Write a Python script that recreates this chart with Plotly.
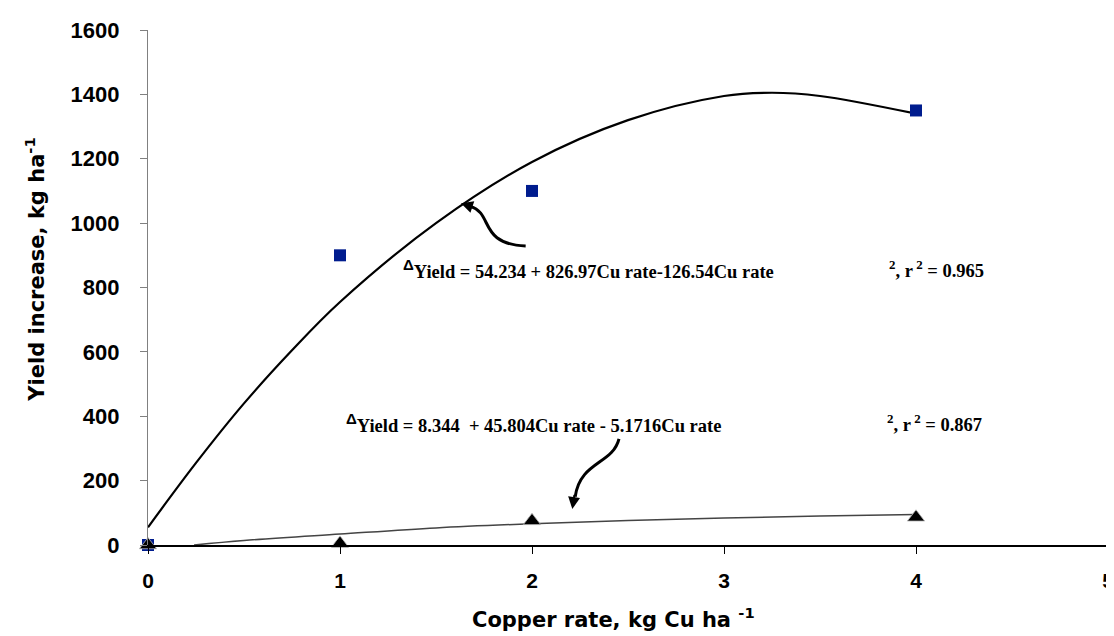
import plotly.graph_objects as go

# Observed data
rate = [0, 1, 2, 4]
yield_sq = [0, 900, 1100, 1350]
yield_tri = [0, 5, 75, 86]

# Fitted curves
up_x = [0, 0.25, 0.5, 0.75, 1, 1.5, 2, 2.5, 3, 3.25, 3.5, 4]
up_y = [55, 255, 440, 605, 755, 1000, 1190, 1320, 1395, 1405, 1395, 1340]
low_x = [0.24, 0.5, 1, 1.5, 2, 2.5, 3, 3.5, 4]
low_y = [0, 14, 34, 53, 66, 76, 84, 90, 95]

x_ticks = [0, 1, 2, 3, 4, 5]
y_ticks = [0, 200, 400, 600, 800, 1000, 1200, 1400, 1600]

fig = go.Figure()
fig.add_trace(go.Scatter(x=up_x, y=up_y, mode="lines", line=dict(color="black", width=2.2, shape="spline"),
                         showlegend=False, hoverinfo="skip"))
fig.add_trace(go.Scatter(x=low_x, y=low_y, mode="lines", line=dict(color="#444444", width=1.5, shape="spline"),
                         showlegend=False, hoverinfo="skip"))
fig.add_trace(go.Scatter(x=rate, y=yield_sq, mode="markers",
                         marker=dict(symbol="square", size=12, color="#001C8E"),
                         showlegend=False, cliponaxis=False))
fig.add_trace(go.Scatter(x=rate, y=yield_tri, mode="markers",
                         marker=dict(symbol="triangle-up", size=15, color="black",
                                     line=dict(color="#bbbbbb", width=0.8)),
                         showlegend=False, cliponaxis=False))

serif = dict(family="Liberation Serif, Times New Roman, serif", size=18.5, color="black", weight="bold")
delta = "<sup><span style='font-family:Liberation Sans, Arial, sans-serif; font-size:15px'>Δ</span></sup>"

# Curvy arrows
fig.add_shape(type="path", xref="x", yref="y",
              path="M 1.967,929 C 1.72,935 1.80,1030 1.68,1052",
              line=dict(color="black", width=3))
fig.add_annotation(x=1.63, y=1062, ax=1.69, ay=1050, xref="x", yref="y", axref="x", ayref="y",
                   text="", showarrow=True, arrowhead=2, arrowsize=1.2, arrowwidth=2, arrowcolor="black")
fig.add_shape(type="path", xref="x", yref="y",
              path="M 2.453,330 C 2.42,250 2.25,260 2.225,150",
              line=dict(color="black", width=3))
fig.add_annotation(x=2.21, y=112, ax=2.222, ay=160, xref="x", yref="y", axref="x", ayref="y",
                   text="", showarrow=True, arrowhead=2, arrowsize=1.2, arrowwidth=2, arrowcolor="black")

# Equations
fig.add_annotation(x=1.32, y=857, xref="x", yref="y", xanchor="left", yanchor="middle", showarrow=False,
                   text=delta + "Yield = 54.234 + 826.97Cu rate-126.54Cu rate", font=serif)
fig.add_annotation(x=3.85, y=857, xref="x", yref="y", xanchor="left", yanchor="middle", showarrow=False,
                   text="<sup>2</sup>, r<sup> 2</sup> = 0.965", font=serif)
fig.add_annotation(x=1.02, y=379, xref="x", yref="y", xanchor="left", yanchor="middle", showarrow=False,
                   text=delta + "Yield = 8.344  + 45.804Cu rate - 5.1716Cu rate", font=serif)
fig.add_annotation(x=3.84, y=379, xref="x", yref="y", xanchor="left", yanchor="middle", showarrow=False,
                   text="<sup>2</sup>, r<sup> 2</sup> = 0.867", font=serif)

# Axis titles
title_font = dict(family="DejaVu Sans, Liberation Sans, sans-serif", size=21, color="black", weight="bold")
fig.add_annotation(x=0.485, y=-0.142, xref="paper", yref="paper", showarrow=False,
                   xanchor="center", yanchor="middle",
                   text="Copper rate, kg Cu ha <sup>-1</sup>", font=title_font)
fig.add_annotation(x=-0.118, y=0.534, xref="paper", yref="paper", showarrow=False, textangle=-90,
                   xanchor="center", yanchor="middle",
                   text="Yield increase, kg ha<sup>-1</sup>", font=title_font)

tick_font = dict(family="Liberation Sans, Arial, sans-serif", size=21, color="black", weight="bold")
fig.update_xaxes(range=[0, 5], tickvals=x_ticks, ticktext=[str(v) for v in x_ticks],
                 showgrid=False, zeroline=False, showline=True, linecolor="black", linewidth=1.5,
                 ticks="outside", ticklen=7, tickcolor="black", tickwidth=1,
                 ticklabelstandoff=9, tickfont=tick_font)
fig.update_yaxes(range=[0, 1600], tickvals=y_ticks, ticktext=[str(v) for v in y_ticks],
                 showgrid=False, zeroline=False, showline=True, linecolor="#808080", linewidth=1.2,
                 ticks="outside", ticklen=7, tickcolor="#808080", tickwidth=1,
                 ticklabelstandoff=16,
                 tickfont=dict(family="Liberation Sans, Arial, sans-serif", size=22, color="black", weight="bold"))

fig.update_layout(width=1114, height=636, margin=dict(l=140, r=8, t=22, b=99),
                  plot_bgcolor="white", paper_bgcolor="white")

fig.write_html("out.html")
